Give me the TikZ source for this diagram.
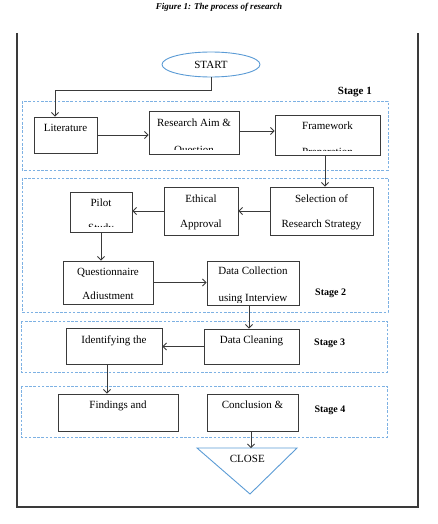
\documentclass[tikz,border=0pt]{standalone}
\usepackage{fontspec}
\setmainfont{Liberation Serif}
\usetikzlibrary{arrows.meta,fit,shapes.geometric}
\definecolor{stageblue}{HTML}{7DB1E3}
\definecolor{shapeblue}{HTML}{5B9BD5}
\definecolor{linegray}{HTML}{3A3A3A}
\tikzset{
  box/.style={draw=linegray, line width=0.9pt, inner sep=0pt},
  txt/.style={inner sep=0pt, anchor=base, font=\fontsize{11}{13}\selectfont},
  stagelbl/.style={inner sep=0pt, anchor=base west, font=\fontsize{10}{12}\selectfont\bfseries},
  stagebox/.style={draw=stageblue, line width=0.9pt, dash pattern=on 2.6pt off 1.6pt},
  arr/.style={draw=linegray, line width=0.8pt, -{Straight Barb[length=3.5pt,width=7pt]}},
  frame/.style={draw=linegray, line width=1.1pt}
}
\begin{document}
\begin{tikzpicture}[x=1pt,y=-1pt]
\useasboundingbox (0,0) rectangle (437,524);
% title
\node[inner sep=0pt, anchor=base, font=\fontsize{9}{11}\selectfont\bfseries\itshape] (title) at (219,10) {Figure 1: The process of research};
% outer frame
\coordinate (fr1) at (17,33);
\coordinate (fr2) at (17,507);
\coordinate (fr3) at (418,507);
\coordinate (fr4) at (418,33);
\draw[frame] (fr1) -- (fr2) -- (fr3) -- (fr4);
% stage boxes
\draw[stagebox] (22,101) rectangle (388,170);
\draw[stagebox] (22,178) rectangle (388,312);
\draw[stagebox] (21,321) rectangle (387,372);
\draw[stagebox] (21,386) rectangle (387,437);
% stage labels
\node[stagelbl, font=\fontsize{11}{13}\selectfont\bfseries] (s1) at (337.7,95) {Stage 1};
\node[stagelbl] (s2) at (315,295.7) {Stage 2};
\node[stagelbl] (s3) at (314,345.3) {Stage 3};
\node[stagelbl] (s4) at (314.3,412.3) {Stage 4};
% start
\node[draw=shapeblue, line width=0.9pt, ellipse, minimum width=98pt, minimum height=25pt, inner sep=0pt] (start) at (211,64.5) {};
\node[txt] (startT) at (211,68.3) {START};
% boxes
\node[box, fit={(34,117) (97,153)}] (lit) {};
\node[box, fit={(149,111) (239,154)}] (ra) {};
\node[box, fit={(275,115) (380,155)}] (fw) {};
\node[box, fit={(270,187) (373,235)}] (sel) {};
\node[box, fit={(164,187) (238,235)}] (eth) {};
\node[box, fit={(70,192) (132,232)}] (pil) {};
\node[box, fit={(63,261) (153,304)}] (q) {};
\node[box, fit={(207,261) (299,305)}] (dc) {};
\node[box, fit={(204,329) (299,364)}] (dcl) {};
\node[box, fit={(66,328) (162,364)}] (idf) {};
\node[box, fit={(58,394) (178,431)}] (fd) {};
\node[box, fit={(207,394) (298,431)}] (conc) {};
% texts
\node[txt] (litT) at (65.5,131.5) {Literature};
\node[txt] (raT) at (194,126) {Research Aim \&};
\begin{scope}\clip (150,140) rectangle (238,149.3);
\node[txt] (raT2) at (194,153) {Question};
\end{scope}
\node[txt] (fwT) at (327.5,129.3) {Framework};
\begin{scope}\clip (276,140) rectangle (379,150);
\node[txt] (fwT2) at (327.5,155) {Preparation};
\end{scope}
\node[txt] (selT) at (321.5,202) {Selection of};
\node[txt] (selT2) at (321.5,227.3) {Research Strategy};
\node[txt] (ethT) at (201,202) {Ethical};
\node[txt] (ethT2) at (201,227.3) {Approval};
\node[txt] (pilT) at (101,206.7) {Pilot};
\begin{scope}\clip (71,215) rectangle (131,226);
\node[txt] (pilT2) at (101,231.6) {Study};
\end{scope}
\node[txt] (qT) at (108,275.3) {Questionnaire};
\begin{scope}\clip (64,285) rectangle (152,298.3);
\node[txt] (qT2) at (108,299.6) {Adjustment};
\end{scope}
\node[txt] (dcT) at (253,274.7) {Data Collection};
\begin{scope}\clip (208,285) rectangle (298,302);
\node[txt] (dcT2) at (253,301) {using Interview};
\end{scope}
\node[txt] (dclT) at (251.5,343.7) {Data Cleaning};
\node[txt] (idfT) at (114,343) {Identifying the};
\node[txt] (fdT) at (118,408.7) {Findings and};
\node[txt] (concT) at (252.5,408.7) {Conclusion \&};
% close triangle
\coordinate (cl1) at (197,448);
\coordinate (cl2) at (297,448);
\coordinate (cl3) at (250,494);
\draw[draw=shapeblue, line width=0.9pt, line join=miter] (cl1) -- (cl2) -- (cl3) -- cycle;
\node[txt] (closeT) at (247.3,462) {CLOSE};
% connectors
\draw[arr] (start.south) -- ++(0,13) -| ([xshift=-10.5pt]lit.north);
\draw[arr] (lit.east) -- (lit.east -| ra.west);
\draw[arr] ([yshift=1.5pt]ra.east) -- ([yshift=1.5pt]ra.east -| fw.west);
\draw[arr] ([xshift=-2.5pt]fw.south) -- ([xshift=-2.5pt]fw.south |- sel.north);
\draw[arr] (sel.west) -- (sel.west -| eth.east);
\draw[arr] (eth.west) -- (eth.west -| pil.east);
\draw[arr] (pil.south) -- (pil.south |- q.north);
\draw[arr] (q.east) -- (q.east -| dc.west);
\draw[arr] ([xshift=-4pt]dc.south) -- ([xshift=-4pt]dc.south |- dcl.north);
\draw[arr] (dcl.west) -- (dcl.west -| idf.east);
\draw[arr] ([xshift=-7pt]idf.south) -- ([xshift=-7pt]idf.south |- fd.north);
\draw[arr] ([xshift=-1.5pt]conc.south) -- ([xshift=-1.5pt]conc.south |- cl1);
\end{tikzpicture}
\end{document}
